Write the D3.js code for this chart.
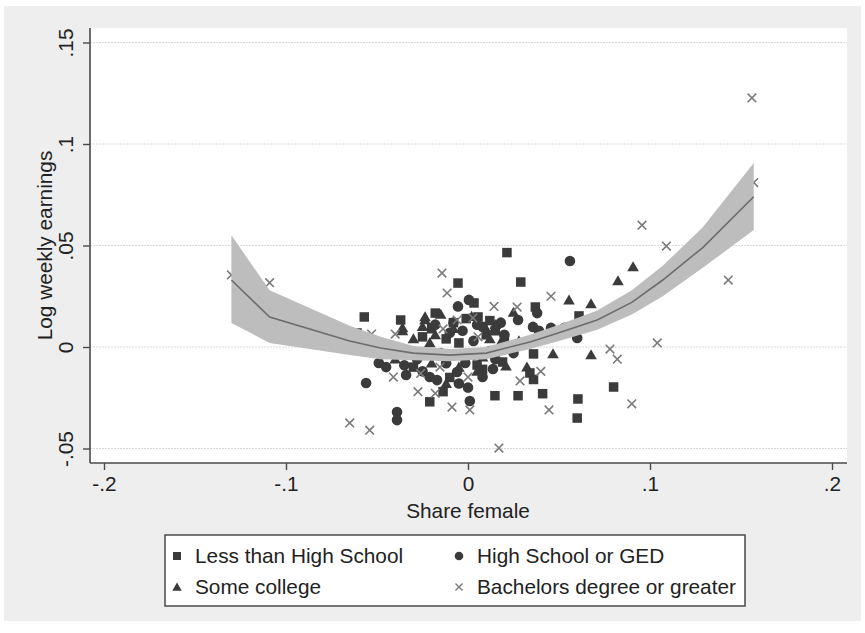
<!DOCTYPE html>
<html>
<head>
<meta charset="utf-8">
<script src="https://cdn.jsdelivr.net/npm/d3@7"></script>
<style>
  body { margin: 0; background: #fff; }
  text { font-family: "Liberation Sans", Arial, sans-serif; fill: #222; }
</style>
</head>
<body>
<svg id="chart" width="865" height="633"></svg>
<script>
// fitted line + 95% band
const fitX     = [-0.130, -0.109, -0.065, -0.048, -0.030, -0.010, 0.010, 0.034, 0.050, 0.071, 0.090, 0.107, 0.129, 0.157];
const fitY     = [0.033, 0.0148, 0.003, -0.0005, -0.003, -0.004, -0.003, 0.0025, 0.007, 0.0133, 0.022, 0.033, 0.049, 0.074];
const fitUpper = [0.055, 0.028, 0.0105, 0.005, 0.0005, -0.001, 0.000, 0.006, 0.011, 0.018, 0.028, 0.040, 0.059, 0.0906];
const fitLower = [0.0118, 0.002, -0.004, -0.006, -0.0065, -0.007, -0.006, -0.001, 0.003, 0.0085, 0.016, 0.025, 0.039, 0.0576];

// Less than High School
const lessHS_x = [0.0214, -0.0055, 0.029, -0.057, -0.037, -0.018, 0.0033, 0.0055, -0.061, -0.001, 0.037, 0.061, 0.036, 0.019, 0.034, 0.036, 0.0275, 0.041, 0.0604, 0.060, 0.080, 0.0148, -0.021, -0.0137, 0.005, -0.030, -0.012, 0.010, -0.025, 0.015, -0.005, -0.032, 0.002, -0.008, 0.012, -0.020, 0.020, -0.010, 0.008];
const lessHS_y = [0.0465, 0.0315, 0.032, 0.0148, 0.0133, 0.0167, 0.0217, 0.0148, 0.0069, 0.014, 0.0197, 0.0153, -0.0034, -0.0074, -0.0128, -0.016, -0.024, -0.023, -0.0256, -0.035, -0.0197, -0.024, -0.027, -0.022, -0.0089, -0.0099, 0.004, 0.006, 0.005, 0.008, 0.002, -0.004, -0.004, 0.012, 0.013, 0.009, 0.004, -0.015, -0.011];

// High School or GED
const highS_x = [0.0005, -0.0055, 0.056, 0.038, 0.0275, 0.0357, 0.039, 0.0456, 0.053, 0.060, -0.056, -0.039, -0.039, 0.001, -0.034, 0.008, 0.0137, -0.049, -0.045, -0.021, -0.017, -0.006, -0.0015, -0.010, 0.008, 0.020, -0.028, -0.015, 0.012, 0.025, -0.008, 0.003, -0.003, 0.005, -0.018, 0.018, -0.025, -0.005, 0.015, -0.035, 0.000, -0.012];
const highS_y = [0.0232, 0.020, 0.0424, 0.0167, 0.0133, 0.0099, 0.008, 0.0094, 0.0094, 0.0044, -0.0177, -0.032, -0.036, -0.0266, -0.0138, -0.0148, -0.0108, -0.0079, -0.0099, -0.0148, -0.0163, -0.0123, -0.0079, 0.007, 0.010, 0.006, -0.006, -0.003, -0.002, -0.003, 0.012, 0.003, 0.008, 0.011, 0.011, 0.012, -0.012, -0.018, -0.006, -0.009, -0.020, -0.008];

// Some college
const someC_x = [0.0907, 0.0824, 0.0555, 0.0676, 0.0467, 0.0676, 0.0324, 0.0209, 0.0187, -0.0236, -0.036, -0.0236, -0.025, -0.021, 0.0093, -0.036, -0.018, -0.008, 0.015, 0.028, -0.040, -0.020, 0.005, -0.012, 0.025, -0.015, 0.002, 0.012, -0.030, 0.008, -0.005];
const someC_y = [0.0394, 0.0325, 0.0231, 0.0212, -0.0034, -0.0039, -0.0099, -0.0094, 0.0034, 0.0133, 0.0079, 0.0148, 0.0100, 0.002, 0.0099, 0.0094, 0.006, 0.009, 0.011, 0.003, -0.006, -0.008, -0.012, -0.018, 0.017, 0.016, 0.015, 0.004, 0.004, -0.005, -0.010];

// Bachelors degree or greater
const bach_x = [-0.130, -0.109, -0.065, -0.054, -0.041, -0.0275, -0.026, -0.018, -0.0088, 0.001, 0.000, 0.017, 0.0286, -0.0143, -0.0115, -0.053, -0.040, 0.0143, 0.027, -0.006, -0.0137, 0.0027, 0.0055, -0.0154, 0.0956, 0.109, 0.0456, 0.104, 0.078, 0.082, 0.040, 0.0445, 0.090, 0.156, 0.157, 0.143];
const bach_y = [0.0355, 0.0317, -0.0374, -0.041, -0.0148, -0.022, -0.013, -0.0228, -0.0296, -0.031, -0.0148, -0.0498, -0.0167, 0.0364, 0.0266, 0.0064, 0.0064, 0.020, 0.0197, 0.0133, 0.0089, 0.0143, 0.005, -0.0099, 0.060, 0.0497, 0.025, 0.002, -0.001, -0.006, -0.012, -0.031, -0.028, 0.1227, 0.081, 0.033];

const xTicks = [-0.2, -0.1, 0, 0.1, 0.2];
const xTickLabels = ["-.2", "-.1", "0", ".1", ".2"];
const yTicks = [-0.05, 0, 0.05, 0.1, 0.15];
const yTickLabels = ["-.05", "0", ".05", ".1", ".15"];

const legendNames = ["Less than High School", "High School or GED", "Some college", "Bachelors degree or greater"];

const svg = d3.select('#chart');
const fs = '20.8px';

// outer gray graph region
svg.append('rect').attr('x', 4).attr('y', 6).attr('width', 857).attr('height', 615).attr('fill', '#eeeeee');

const plot = { left: 90, right: 847, top: 28, bottom: 463 };
svg.append('rect').attr('x', plot.left).attr('y', plot.top)
  .attr('width', plot.right - plot.left).attr('height', plot.bottom - plot.top).attr('fill', '#fff');

let x = d3.scaleLinear().domain([-0.20769, 0.20824]).range([plot.left, plot.right]);
let y = d3.scaleLinear().domain([-0.05714, 0.15714]).range([plot.bottom, plot.top]);

// grid lines
svg.append('g').selectAll('line').data(yTicks).enter().append('line')
  .attr('x1', plot.left).attr('x2', plot.right)
  .attr('y1', d => y(d)).attr('y2', d => y(d))
  .attr('stroke', '#d9d9d9').attr('stroke-width', 1).attr('stroke-dasharray', '2,1');

const markColor = '#3b3b3b';

// scatter
const g = svg.append('g');
const sq = 9.5;
g.selectAll('rect.lhs').data(d3.range(lessHS_x.length)).enter().append('rect')
  .attr('class', 'lhs')
  .attr('x', i => x(lessHS_x[i]) - sq / 2).attr('y', i => y(lessHS_y[i]) - sq / 2)
  .attr('width', sq).attr('height', sq).attr('fill', markColor);

g.selectAll('circle.hs').data(d3.range(highS_x.length)).enter().append('circle')
  .attr('class', 'hs')
  .attr('cx', i => x(highS_x[i])).attr('cy', i => y(highS_y[i])).attr('r', 5.3).attr('fill', markColor);

const tri = d3.symbol().type(d3.symbolTriangle).size(58);
g.selectAll('path.sc').data(d3.range(someC_x.length)).enter().append('path')
  .attr('class', 'sc')
  .attr('d', tri)
  .attr('transform', i => 'translate(' + x(someC_x[i]) + ',' + (y(someC_y[i]) + 1) + ')')
  .attr('fill', markColor);

const cross = d3.symbol().type(d3.symbolX).size(50);
g.selectAll('path.ba').data(d3.range(bach_x.length)).enter().append('path')
  .attr('class', 'ba')
  .attr('d', cross)
  .attr('transform', i => 'translate(' + x(bach_x[i]) + ',' + y(bach_y[i]) + ')')
  .attr('fill', 'none').attr('stroke', '#7a7a7a').attr('stroke-width', 1.6);

// confidence band + fitted line
const idx = d3.range(fitX.length);
svg.append('path')
  .attr('d', d3.area().x(i => x(fitX[i])).y0(i => y(fitLower[i])).y1(i => y(fitUpper[i]))(idx))
  .attr('fill', '#bdbdbd');
svg.append('path')
  .attr('d', d3.line().x(i => x(fitX[i])).y(i => y(fitY[i]))(idx))
  .attr('fill', 'none').attr('stroke', '#6c6c6c').attr('stroke-width', 1.6);

// axes
const xAxis = svg.append('g').attr('transform', 'translate(0,' + plot.bottom + ')')
  .call(d3.axisBottom(x).tickValues(xTicks).tickFormat((d, i) => xTickLabels[i]).tickSize(7).tickPadding(6).tickSizeOuter(0));
const yAxis = svg.append('g').attr('transform', 'translate(' + plot.left + ',0)')
  .call(d3.axisLeft(y).tickValues(yTicks).tickFormat((d, i) => yTickLabels[i]).tickSize(7).tickSizeOuter(0));

[xAxis, yAxis].forEach(a => {
  a.select('.domain').attr('stroke', '#4a4a4a').attr('stroke-width', 1.6);
  a.selectAll('.tick line').attr('stroke', '#4a4a4a').attr('stroke-width', 1.4);
  a.selectAll('.tick text').style('font-size', fs).attr('fill', '#222');
});
// stretch axis lines over the whole plot region
xAxis.select('.domain').attr('d', 'M' + plot.left + ',0H' + plot.right);
yAxis.select('.domain').attr('d', 'M0,' + plot.top + 'V' + plot.bottom);

yAxis.selectAll('.tick text')
  .attr('x', 0).attr('dy', 0)
  .attr('text-anchor', 'middle')
  .attr('transform', 'translate(-17,0) rotate(-90)');

// axis titles
svg.append('text').attr('x', 468).attr('y', 518)
  .attr('text-anchor', 'middle').style('font-size', fs).text('Share female');
svg.append('text').attr('transform', 'translate(52,' + ((plot.top + plot.bottom) / 2) + ') rotate(-90)')
  .attr('text-anchor', 'middle').style('font-size', fs).text('Log weekly earnings');

// legend
const lg = svg.append('g');
lg.append('rect').attr('x', 165).attr('y', 535).attr('width', 580).attr('height', 71)
  .attr('fill', '#fff').attr('stroke', '#4a4a4a').attr('stroke-width', 1.5);

const legPos = [[177, 556], [459, 556], [177, 587], [459, 587]];
lg.append('rect').attr('x', legPos[0][0] - 4).attr('y', legPos[0][1] - 4).attr('width', 8).attr('height', 8).attr('fill', markColor);
lg.append('circle').attr('cx', legPos[1][0]).attr('cy', legPos[1][1]).attr('r', 4.3).attr('fill', markColor);
lg.append('path').attr('d', d3.symbol().type(d3.symbolTriangle).size(38))
  .attr('transform', 'translate(' + legPos[2][0] + ',' + (legPos[2][1] + 1) + ')').attr('fill', markColor);
lg.append('path').attr('d', d3.symbol().type(d3.symbolX).size(34))
  .attr('transform', 'translate(' + legPos[3][0] + ',' + legPos[3][1] + ')')
  .attr('fill', 'none').attr('stroke', '#7a7a7a').attr('stroke-width', 1.4);

lg.selectAll('text.leg').data(legendNames).enter().append('text')
  .attr('class', 'leg')
  .attr('x', (d, i) => legPos[i][0] + 18).attr('y', (d, i) => legPos[i][1] + 7)
  .style('font-size', fs).text(d => d);
</script>
</body>
</html>
